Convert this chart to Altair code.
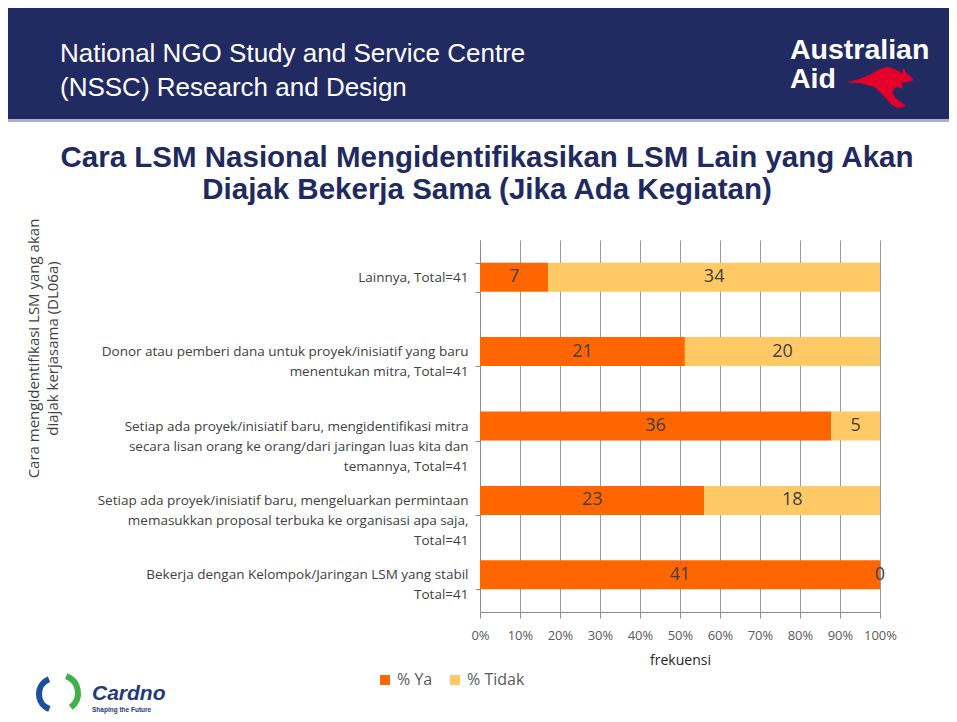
import altair as alt
import pandas as pd

# ---------------- data ----------------
categories = [
    "Lainnya,  Total=41",
    "Donor atau pemberi dana untuk proyek/inisiatif yang baru\nmenentukan mitra,   Total=41",
    "Setiap ada proyek/inisiatif baru, mengidentifikasi mitra\nsecara lisan orang ke orang/dari jaringan luas kita dan\ntemannya,  Total=41",
    "Setiap ada  proyek/inisiatif baru, mengeluarkan permintaan\nmemasukkan proposal terbuka ke organisasi apa saja,\nTotal=41",
    "Bekerja dengan Kelompok/Jaringan LSM yang stabil\nTotal=41",
]
series_names = ["% Ya", "% Tidak"]
ya_values = [7, 21, 36, 23, 41]
tidak_values = [34, 20, 5, 18, 0]
x_tick_values = [0, 0.1, 0.2, 0.3, 0.4, 0.5, 0.6, 0.7, 0.8, 0.9, 1.0]

header_line1 = "National NGO Study and Service Centre"
header_line2 = "(NSSC) Research and Design"
title_line1 = "Cara LSM Nasional Mengidentifikasikan LSM Lain yang Akan"
title_line2 = "Diajak Bekerja Sama (Jika Ada Kegiatan)"
y_title = ["Cara mengidentifikasi LSM yang akan", "diajak kerjasama (DL06a)"]
x_title = "frekuensi"

rows = []
for c, a, b in zip(categories, ya_values, tidak_values):
    rows.append({"cat": c, "series": series_names[0], "value": a, "order": 0})
    rows.append({"cat": c, "series": series_names[1], "value": b, "order": 1})
df = pd.DataFrame(rows)
dummy = pd.DataFrame({"k": [0]})

NAVY = "#222a62"
LABEL_FONT = "Open Sans"

# ---------------- main chart ----------------
base = alt.Chart(df).transform_stack(
    stack="value",
    groupby=["cat"],
    sort=[alt.SortField("order", order="ascending")],
    as_=["v0", "v1"],
    offset="normalize",
).transform_calculate(mid="(datum.v0 + datum.v1) / 2")

yscale = alt.Scale(paddingInner=0.61, paddingOuter=0.305)
xscale = alt.Scale(domain=[0, 1], nice=False)

y_axis = alt.Axis(
    title=y_title,
    titleFont=LABEL_FONT,
    titleFontSize=15,
    titleFontWeight="normal",
    titleColor="#404040",
    titleLineHeight=19,
    titleX=-439,
    titleY=108,
    titleAngle=270,
    titleAlign="center",
    titleBaseline="bottom",
    tickBand="extent",
    labelExpr="split(datum.label, '\\n')",
    labelAlign="right",
    labelBaseline="middle",
    labelLineHeight=20,
    labelLimit=440,
    labelPadding=7,
    labelFont=LABEL_FONT,
    labelFontSize=13.5,
    labelColor="#404040",
    tickSize=5,
    tickColor="#8c8c8c",
    domainColor="#8c8c8c",
    grid=False,
)

x_axis = alt.Axis(
    values=x_tick_values,
    tickCount=11,
    format="%",
    labelOverlap=False,
    labelFlush=False,
    grid=True,
    gridColor="#9a9a9a",
    gridWidth=1,
    domainColor="#8c8c8c",
    tickColor="#8c8c8c",
    tickSize=6,
    labelFont=LABEL_FONT,
    labelFontSize=13,
    labelColor="#595959",
    labelPadding=11,
    title=x_title,
    titleFont=LABEL_FONT,
    titleFontSize=14,
    titleFontWeight="normal",
    titleColor="#262626",
    titlePadding=11,
)

bars = base.mark_bar().encode(
    x=alt.X("v0:Q", scale=xscale, axis=x_axis),
    x2="v1:Q",
    y=alt.Y("cat:N", sort=categories, scale=yscale, axis=y_axis),
    color=alt.Color(
        "series:N",
        scale=alt.Scale(domain=series_names, range=["#ff6600", "#ffc966"]),
        legend=alt.Legend(
            title=None,
            orient="none",
            direction="horizontal",
            legendX=-103,
            legendY=432,
            symbolType="square",
            symbolSize=100,
            symbolStrokeWidth=0,
            labelFont=LABEL_FONT,
            labelFontSize=16,
            labelColor="#595959",
            columnPadding=14,
            padding=0,
        ),
    ),
)

labels = base.mark_text(
    font=LABEL_FONT, fontSize=18, color="#404040", baseline="middle", align="center"
).encode(
    x=alt.X("mid:Q", scale=xscale, axis=x_axis),
    y=alt.Y("cat:N", sort=categories, scale=yscale, axis=y_axis),
    text=alt.Text("value:Q"),
)

# ---------------- decorations (plot origin = page (480, 240)) ----------------
header_rect = alt.Chart(dummy).mark_rect(color=NAVY).encode(
    x=alt.value(-472), x2=alt.value(469), y=alt.value(-232), y2=alt.value(-121)
)
header_line = alt.Chart(dummy).mark_rect(color="#aab0c8").encode(
    x=alt.value(-472), x2=alt.value(469), y=alt.value(-121), y2=alt.value(-118)
)


def txt(s, x, y, **kw):
    return alt.Chart(dummy).mark_text(text=s, **kw).encode(x=alt.value(x), y=alt.value(y))


h1 = txt(header_line1, -420, -178, font="Liberation Sans", fontSize=26, color="white",
         align="left", baseline="alphabetic")
h2 = txt(header_line2, -420, -144, font="Liberation Sans", fontSize=26, color="white",
         align="left", baseline="alphabetic")
aus1 = txt("Australian", 310, -181, font="Liberation Sans", fontSize=28.5, fontWeight="bold",
           color="white", align="left", baseline="alphabetic")
aus2 = txt("Aid", 310, -152, font="Liberation Sans", fontSize=28.5, fontWeight="bold",
           color="white", align="left", baseline="alphabetic")

kangaroo_path = (
    "M -1 -0.17 L -0.63 -0.26 L -0.29 -0.4 L 0 -0.57 L 0.23 -0.63 L 0.49 -0.54 "
    "L 0.66 -0.43 L 0.69 -0.6 L 0.8 -0.43 L 0.89 -0.37 L 1 -0.23 L 0.8 -0.17 "
    "L 0.63 -0.14 L 0.69 0.03 L 0.54 -0.03 L 0.43 0 L 0.37 0.14 L 0.46 0.29 "
    "L 0.77 0.54 L 0.54 0.6 L 0.34 0.49 L 0.11 0.23 L -0.17 -0.03 L -0.57 -0.14 Z"
)
kangaroo = alt.Chart(dummy).mark_point(
    shape=kangaroo_path, filled=True, color="#e4002b", opacity=1, size=4500, strokeWidth=0
).encode(x=alt.value(400), y=alt.value(-152))

t1 = txt(title_line1, 7, -73, font="Liberation Sans", fontSize=29.5, fontWeight="bold",
         color="#1f2a5e", align="center", baseline="alphabetic")
t2 = txt(title_line2, 7, -41, font="Liberation Sans", fontSize=29.5, fontWeight="bold",
         color="#1f2a5e", align="center", baseline="alphabetic")

arc_blue = alt.Chart(dummy).mark_arc(
    radius=19, radius2=13, theta=3.5, theta2=5.9, color="#1c4f9c"
).encode(x=alt.value(-425), y=alt.value(454))
arc_green = alt.Chart(dummy).mark_arc(
    radius=21, radius2=15, theta=0.35, theta2=2.5, color="#3fb24a"
).encode(x=alt.value(-420), y=alt.value(453))
cardno = txt("Cardno", -388, 460, font="Liberation Sans", fontSize=21, fontWeight="bold",
             fontStyle="italic", color="#1f3a7d", align="left", baseline="alphabetic")
cardno_sub = txt("Shaping the Future", -388, 472, font="Liberation Sans", fontSize=6.5,
                 fontWeight="bold", color="#1f3a7d", align="left", baseline="alphabetic")

chart = alt.layer(
    header_rect, header_line, h1, h2, aus1, aus2, kangaroo, t1, t2,
    bars, labels, arc_blue, arc_green, cardno, cardno_sub,
).properties(
    width=400,
    height=372,
    padding={"left": 472, "top": 232, "right": 69, "bottom": 102},
    autosize=alt.AutoSizeParams(type="none"),
    background="white",
).configure_view(stroke=None)

chart.save("out.html", embed_options={"renderer": "svg", "actions": False})
